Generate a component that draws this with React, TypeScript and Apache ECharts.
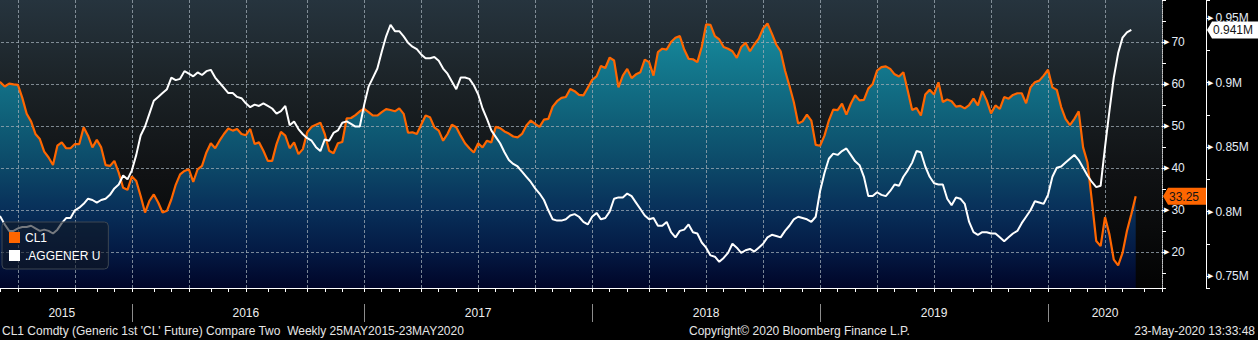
import React, { useEffect, useRef } from "react";
import * as echarts from "echarts";

// ---------- data ----------
const FIRST_WEEK = "2015-05-29"; // first weekly print (Friday)
const AXIS_WEEKS = 267; // axis slots: 261 prints + empty weeks to the right edge
const seriesNames = ["CL1", ".AGGENER U"];

// CL1 Comdty, weekly closes (USD/bbl)
const cl1: number[] = [
  60.4, 60.4, 59.4, 60.1, 59.9, 59.8, 56.7, 52.9, 51.1, 48.1,
  46.9, 43.9, 42.5, 40.7, 45.3, 46.1, 44.7, 44.7, 45.7, 45.7,
  49.7, 47.7, 44.9, 46.7, 44.9, 40.7, 40.5, 41.7, 38.9, 35.3,
  34.8, 38.0, 36.9, 33.3, 29.4, 32.2, 33.7, 31.8, 29.4, 29.8,
  32.5, 36.0, 38.5, 39.3, 39.7, 36.7, 39.7, 40.5, 43.7, 45.9,
  44.7, 46.5, 48.1, 49.4, 48.9, 49.3, 48.1, 47.8, 49.3, 45.7,
  46.1, 44.1, 41.7, 41.7, 45.7, 48.6, 47.7, 44.7, 46.1, 43.3,
  44.5, 48.5, 49.8, 50.3, 50.8, 48.1, 44.1, 43.5, 45.9, 46.2,
  51.8, 51.9, 52.6, 53.5, 54.1, 53.3, 52.5, 52.5, 53.3, 54.0,
  53.8, 53.5, 54.2, 52.9, 48.4, 48.5, 48.1, 50.3, 52.5, 52.1,
  49.7, 48.9, 46.5, 48.1, 50.3, 49.7, 47.7, 45.9, 44.7, 43.7,
  45.9, 44.9, 46.5, 46.1, 49.8, 49.5, 48.7, 48.2, 47.5, 47.3,
  48.1, 50.1, 51.3, 50.5, 49.8, 51.5, 51.7, 54.6, 55.9, 56.7,
  56.9, 58.8, 58.3, 57.4, 57.3, 59.1, 61.0, 61.8, 64.3, 63.8,
  66.3, 65.6, 59.2, 62.0, 63.6, 61.4, 62.3, 62.8, 65.8, 65.2,
  62.0, 67.6, 68.4, 68.2, 70.0, 71.0, 71.4, 68.2, 66.0, 65.9,
  65.2, 68.8, 74.2, 74.1, 71.4, 70.6, 68.8, 68.4, 67.8, 66.2,
  68.8, 69.8, 67.8, 69.4, 70.8, 73.2, 74.4, 72.0, 69.4, 67.8,
  63.2, 59.6, 55.7, 50.6, 51.1, 52.7, 51.3, 45.5, 45.3, 47.7,
  51.3, 53.9, 53.8, 55.3, 52.7, 55.3, 57.3, 56.1, 56.2, 58.9,
  60.0, 63.2, 64.0, 64.2, 63.6, 62.3, 61.8, 62.8, 58.4, 53.8,
  54.3, 52.5, 57.5, 58.6, 57.5, 60.4, 55.7, 56.3, 55.9, 54.6,
  54.8, 54.2, 55.0, 56.5, 54.9, 58.3, 56.1, 53.0, 54.9, 54.1,
  56.9, 56.5, 57.4, 57.8, 57.8, 55.4, 59.2, 60.4, 60.8, 62.0,
  63.4, 59.2, 58.6, 54.5, 51.7, 50.2, 51.7, 53.5, 44.9, 41.3,
  32.2, 22.6, 21.4, 28.3, 24.2, 18.2, 16.8, 19.8, 25.0, 29.0,
  33.25,
];

// .AGGENER U, weekly (millions)
const aggener: number[] = [
  0.797, 0.796, 0.790, 0.785, 0.785, 0.787, 0.788, 0.788, 0.789, 0.787,
  0.785, 0.786, 0.785, 0.783, 0.786, 0.791, 0.795, 0.795, 0.801, 0.803,
  0.806, 0.810, 0.809, 0.807, 0.809, 0.810, 0.813, 0.818, 0.821, 0.828,
  0.825, 0.832, 0.844, 0.859, 0.866, 0.876, 0.886, 0.889, 0.892, 0.895,
  0.904, 0.902, 0.903, 0.909, 0.907, 0.905, 0.908, 0.906, 0.909, 0.910,
  0.904, 0.900, 0.896, 0.892, 0.892, 0.889, 0.888, 0.884, 0.881, 0.883,
  0.882, 0.884, 0.882, 0.880, 0.876, 0.878, 0.882, 0.867, 0.870, 0.864,
  0.860, 0.857, 0.855, 0.850, 0.847, 0.856, 0.855, 0.861, 0.863, 0.869,
  0.870, 0.868, 0.866, 0.866, 0.883, 0.897, 0.904, 0.911, 0.924, 0.936,
  0.945, 0.940, 0.940, 0.936, 0.931, 0.928, 0.926, 0.922, 0.919, 0.919,
  0.920, 0.917, 0.911, 0.907, 0.901, 0.895, 0.904, 0.904, 0.903, 0.898,
  0.891, 0.880, 0.872, 0.863, 0.858, 0.853, 0.846, 0.840, 0.837, 0.835,
  0.831, 0.827, 0.823, 0.818, 0.814, 0.809, 0.801, 0.794, 0.793, 0.793,
  0.794, 0.797, 0.798, 0.796, 0.792, 0.790, 0.796, 0.799, 0.794, 0.795,
  0.800, 0.810, 0.811, 0.811, 0.814, 0.812, 0.807, 0.802, 0.797, 0.794,
  0.795, 0.789, 0.789, 0.792, 0.784, 0.780, 0.785, 0.786, 0.790, 0.784,
  0.783, 0.776, 0.772, 0.766, 0.765, 0.761, 0.764, 0.768, 0.775, 0.772,
  0.768, 0.770, 0.771, 0.769, 0.772, 0.775, 0.780, 0.782, 0.781, 0.780,
  0.785, 0.789, 0.794, 0.796, 0.795, 0.794, 0.792, 0.796, 0.816, 0.830,
  0.841, 0.845, 0.844, 0.847, 0.849, 0.844, 0.839, 0.836, 0.827, 0.812,
  0.812, 0.815, 0.813, 0.812, 0.816, 0.821, 0.820, 0.827, 0.832, 0.838,
  0.847, 0.846, 0.835, 0.827, 0.822, 0.821, 0.821, 0.810, 0.805, 0.811,
  0.810, 0.806, 0.792, 0.784, 0.782, 0.784, 0.784, 0.783, 0.783, 0.780,
  0.777, 0.780, 0.783, 0.785, 0.791, 0.796, 0.801, 0.808, 0.807, 0.806,
  0.813, 0.827, 0.834, 0.835, 0.838, 0.841, 0.844, 0.840, 0.834, 0.828,
  0.823, 0.819, 0.820, 0.850, 0.878, 0.904, 0.923, 0.935, 0.939, 0.941,
];

const cl1Range = [11.43, 80];
const aggRange = [0.7407, 0.9642];
const cl1GridValues = [20, 30, 40, 50, 60, 70]; // horizontal grid lines (CL1 scale)

const footerLeft = "CL1 Comdty (Generic 1st 'CL' Future) Compare Two  Weekly 25MAY2015-23MAY2020";
const footerCenter = "Copyright\u00A9 2020 Bloomberg Finance L.P.";
const footerRight = "23-May-2020 13:33:48";

const FONT = '"Liberation Sans", Arial, sans-serif';

function buildWeeks(): string[] {
  const out: string[] = [];
  const t0 = Date.parse(FIRST_WEEK + "T00:00:00Z");
  for (let i = 0; i < AXIS_WEEKS; i++) {
    out.push(new Date(t0 + i * 7 * 86400000).toISOString().slice(0, 10));
  }
  return out;
}

export default function App() {
  const ref = useRef<HTMLDivElement>(null);

  useEffect(() => {
    if (!ref.current) return;
    const chart = echarts.init(ref.current, null, { renderer: "svg" });
    const weeks = buildWeeks();
    const ym = weeks.map((w) => [Number(w.slice(0, 4)), Number(w.slice(5, 7))]);
    const isMonthStart = (i: number) => i > 0 && ym[i][1] !== ym[i - 1][1];
    const isQuarterStart = (i: number) => isMonthStart(i) && (ym[i][1] - 1) % 3 === 0;
    const isYearStart = (i: number) => i > 0 && ym[i][0] !== ym[i - 1][0];
    const yearMid = new Set<number>();
    let s = 0;
    for (let i = 1; i <= weeks.length; i++) {
      if (i === weeks.length || isYearStart(i)) {
        yearMid.add(Math.floor((s + i) / 2));
        s = i;
      }
    }
    const quarterIdx: number[] = [];
    for (let i = 0; i < weeks.length; i++) if (isQuarterStart(i)) quarterIdx.push(i);

    const gridColor = "rgba(160,172,182,0.75)";
    const labelColor = "#e4ecf6";

    const tag = (
      name: string,
      yIdx: number,
      idx: number,
      value: number,
      text: string,
      fill: string,
      shift: number,
      w: number
    ) => ({
      type: "custom",
      name,
      xAxisIndex: 0,
      yAxisIndex: yIdx,
      z: 20,
      silent: true,
      clip: false,
      data: [[idx, value]],
      renderItem: (params: any, api: any) => {
        const cs = params.coordSys;
        const y = api.coord([api.value(0), api.value(1)])[1];
        const x0 = cs.x + cs.width + shift;
        const h = 17;
        return {
          type: "group",
          children: [
            {
              type: "polygon",
              shape: {
                points: [
                  [x0, y],
                  [x0 + 5, y - h / 2],
                  [x0 + w, y - h / 2],
                  [x0 + w, y + h / 2],
                  [x0 + 5, y + h / 2],
                ],
              },
              style: { fill },
            },
            {
              type: "text",
              style: {
                text,
                x: x0 + 6,
                y: y + 0.5,
                align: "left",
                verticalAlign: "middle",
                fill: "#141414",
                font: `12px ${FONT}`,
              },
            },
          ],
        };
      },
    });

    const lastCl = cl1.length - 1;
    const lastAg = aggener.length - 1;

    const yLabel = (suffix: string) => ({
      showMinLabel: false,
      showMaxLabel: false,
      margin: 2,
      formatter: (v: number) => `{a|\u25B6}{b|${v}${suffix}}`,
      rich: {
        a: { fontSize: 7, color: "#ffffff", fontFamily: "DejaVu Sans" },
        b: { fontSize: 12, color: labelColor, fontFamily: FONT, padding: [0, 0, 0, 2] },
      },
    });

    // dashed grid: vertical at quarter starts, horizontal at CL1 ticks
    const gridData = [
      ...quarterIdx.map((q) => [q, cl1Range[0], 0]),
      ...cl1GridValues.map((v) => [0, v, 1]),
    ];

    chart.setOption({
      animation: false,
      backgroundColor: "#000",
      color: ["#ff6600", "#ffffff"],
      grid: {
        left: -4,
        right: 96,
        top: 0,
        bottom: 52,
        show: true,
        z: 0,
        borderWidth: 0,
        containLabel: false,
        outerBoundsMode: "none",
        backgroundColor: new echarts.graphic.LinearGradient(0, 0, 0, 1, [
          { offset: 0, color: "#26343e" },
          { offset: 0.3, color: "#1b2226" },
          { offset: 0.6, color: "#101214" },
          { offset: 1, color: "#030303" },
        ]),
      },
      legend: {
        data: seriesNames,
        orient: "vertical",
        left: 2,
        top: 222,
        z: 10,
        padding: [9, 8, 7, 7],
        itemGap: 5,
        itemWidth: 11,
        itemHeight: 11,
        icon: "rect",
        backgroundColor: "rgba(18,24,34,0.58)",
        borderColor: "#3c4652",
        borderWidth: 1,
        borderRadius: 4,
        selectedMode: false,
        textStyle: { color: "#ffffff", fontSize: 12, fontFamily: FONT, lineHeight: 13 },
      },
      xAxis: [
        {
          type: "category",
          data: weeks,
          boundaryGap: false,
          z: 3,
          axisLine: { show: true, lineStyle: { color: "#ffffff", width: 1 } },
          axisTick: { show: true, length: 4, interval: (i: number) => isMonthStart(i), lineStyle: { color: "#ffffff" } },
          axisLabel: {
            show: true,
            interval: (i: number) => yearMid.has(i),
            formatter: (v: string) => v.slice(0, 4),
            margin: 19,
            color: "#eeeeee",
            fontSize: 12,
            fontFamily: FONT,
          },
          splitLine: { show: false },
        },
        {
          type: "category",
          data: weeks,
          boundaryGap: false,
          position: "bottom",
          offset: 16,
          z: 3,
          axisLine: { show: false },
          axisTick: { show: true, length: 18, interval: (i: number) => isYearStart(i), lineStyle: { color: "#8c8c8c" } },
          axisLabel: { show: false },
          splitLine: { show: false },
        },
      ],
      yAxis: [
        {
          type: "value",
          position: "right",
          min: cl1Range[0],
          max: cl1Range[1],
          splitNumber: 7,
          z: 3,
          axisLine: { show: true, lineStyle: { color: "#c8c8c8", type: "dotted" } },
          axisTick: { show: true, length: 4, lineStyle: { color: "#ffffff" } },
          minorTick: { show: true, splitNumber: 2, length: 4, lineStyle: { color: "#ffffff" } },
          splitLine: { show: false },
          axisLabel: yLabel(""),
        },
        {
          type: "value",
          position: "right",
          offset: 44,
          min: aggRange[0],
          max: aggRange[1],
          splitNumber: 4,
          z: 3,
          axisLine: { show: true, lineStyle: { color: "#ffffff" } },
          axisTick: { show: true, length: 4, lineStyle: { color: "#ffffff" } },
          minorTick: { show: true, splitNumber: 2, length: 4, lineStyle: { color: "#ffffff" } },
          splitLine: { show: false },
          axisLabel: yLabel("M"),
        },
      ],
      graphic: [
        { type: "text", left: 2, top: 325, style: { text: footerLeft, fill: "#e6e6e6", font: `12px ${FONT}` } },
        { type: "text", left: 689, top: 325, style: { text: footerCenter, fill: "#e6e6e6", font: `12px ${FONT}` } },
        { type: "text", right: 3, top: 325, style: { text: footerRight, fill: "#e6e6e6", font: `12px ${FONT}` } },
      ],
      series: [
        {
          name: "cl1Area",
          type: "line",
          data: cl1,
          xAxisIndex: 0,
          yAxisIndex: 0,
          symbol: "none",
          z: 1,
          silent: true,
          lineStyle: { width: 0, opacity: 0 },
          areaStyle: {
            origin: "start",
            opacity: 1,
            color: new echarts.graphic.LinearGradient(0, 0, 0, 1, [
              { offset: 0, color: "#168c9e" },
              { offset: 0.38, color: "#0f5d76" },
              { offset: 0.55, color: "#0c4767" },
              { offset: 0.7, color: "#08305a" },
              { offset: 0.86, color: "#041a44" },
              { offset: 1, color: "#000528" },
            ]),
          },
          emphasis: { disabled: true },
        },
        {
          name: "grid",
          type: "custom",
          xAxisIndex: 0,
          yAxisIndex: 0,
          z: 2,
          silent: true,
          clip: false,
          data: gridData,
          renderItem: (params: any, api: any) => {
            const cs = params.coordSys;
            const p = api.coord([api.value(0), api.value(1)]);
            const vertical = api.value(2) === 0;
            const px = Math.round(p[0]) + 0.5;
            const py = Math.round(p[1]) + 0.5;
            const shape = vertical
              ? { x1: px, y1: cs.y, x2: px, y2: cs.y + cs.height }
              : { x1: cs.x, y1: py, x2: cs.x + cs.width, y2: py };
            return {
              type: "line",
              shape,
              style: { stroke: gridColor, lineWidth: 1, lineDash: [3, 2] },
            };
          },
        },
        {
          name: seriesNames[0],
          type: "line",
          data: cl1,
          xAxisIndex: 0,
          yAxisIndex: 0,
          symbol: "none",
          z: 4,
          lineStyle: { color: "#ff6600", width: 2.2 },
          itemStyle: { color: "#ff6600" },
          emphasis: { disabled: true },
        },
        {
          name: seriesNames[1],
          type: "line",
          data: aggener,
          xAxisIndex: 0,
          yAxisIndex: 1,
          symbol: "none",
          z: 5,
          lineStyle: { color: "#ffffff", width: 2 },
          itemStyle: { color: "#ffffff" },
          emphasis: { disabled: true },
        },
        tag("cl1Tag", 0, lastCl, cl1[lastCl], cl1[lastCl].toFixed(2), "#ff6600", 1, 43),
        tag("aggTag", 1, lastAg, aggener[lastAg], aggener[lastAg].toFixed(3) + "M", "#ffffff", 45, 52),
      ],
    });

    return () => chart.dispose();
  }, []);

  return (
    <div
      ref={ref}
      style={{ position: "fixed", left: 0, top: 0, width: 1258, height: 340, background: "#000" }}
    />
  );
}
